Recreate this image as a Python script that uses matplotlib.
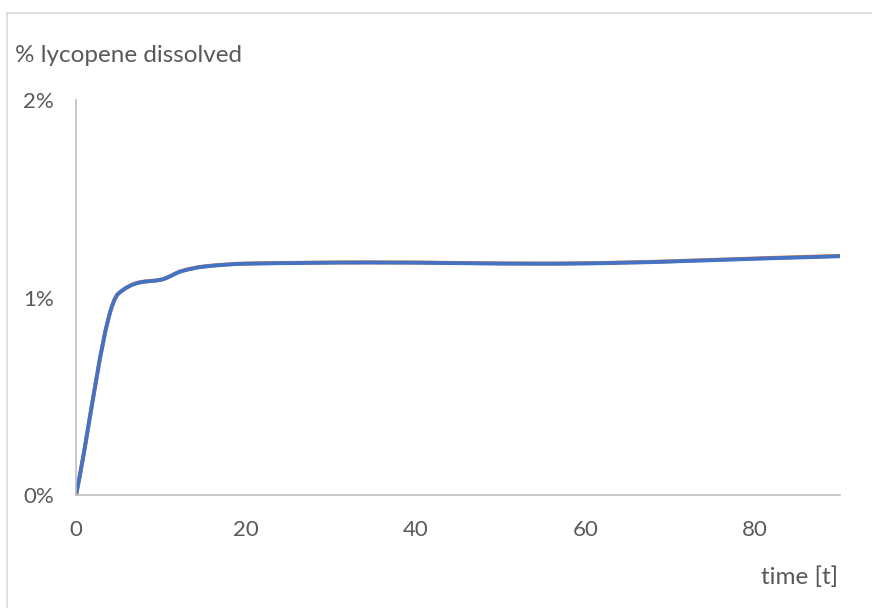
import matplotlib
matplotlib.use("Agg")
import matplotlib.pyplot as plt
import numpy as np
from matplotlib.path import Path
from matplotlib.patches import PathPatch
from matplotlib.lines import Line2D
from matplotlib.ticker import FuncFormatter

plt.rcParams['font.family'] = ['Lato', 'DejaVu Sans']

# data (percent as fraction)
t = [0, 5, 7.5, 10, 12.5, 15, 20, 35, 55, 90]
series_a = [0.0, 0.0102, 0.01077, 0.0109, 0.01135, 0.01157, 0.01172, 0.01178, 0.01172, 0.01211]
series_b = [0.0, 0.0102, 0.01076, 0.0109, 0.01134, 0.01156, 0.01171, 0.01177, 0.01171, 0.01209]

x_ticks = [0, 20, 40, 60, 80]
y_ticks = [0, 0.01, 0.02]

grey = '#595959'
axis_col = '#bfbfbf'


def smooth_path(x, y):
    # smoothed line drawn as cubic beziers through every point (monotone tangents)
    x = np.asarray(x, float)
    y = np.asarray(y, float)
    h = np.diff(x)
    d = np.diff(y) / h
    n = len(x)
    m = np.zeros(n)
    m[0], m[-1] = d[0], d[-1]
    for k in range(1, n - 1):
        if d[k - 1] * d[k] <= 0:
            m[k] = 0.0
        else:
            w1 = 2 * h[k] + h[k - 1]
            w2 = h[k] + 2 * h[k - 1]
            m[k] = (w1 + w2) / (w1 / d[k - 1] + w2 / d[k])
    verts = [(x[0], y[0])]
    codes = [Path.MOVETO]
    for k in range(n - 1):
        verts += [(x[k] + h[k] / 3, y[k] + m[k] * h[k] / 3),
                  (x[k + 1] - h[k] / 3, y[k + 1] - m[k + 1] * h[k] / 3),
                  (x[k + 1], y[k + 1])]
        codes += [Path.CURVE4] * 3
    return Path(verts, codes)


fig = plt.figure(figsize=(8.72, 6.08), dpi=100)
ax = fig.add_axes([76 / 872, 113 / 608, (840 - 76) / 872, (495 - 100) / 608])

for ys, col in [(series_a, '#ED7D31'), (series_b, '#4472C4')]:
    patch = PathPatch(smooth_path(t, ys), facecolor='none', edgecolor=col,
                      lw=2.8, capstyle='round', joinstyle='round')
    ax.add_patch(patch)

ax.set_xlim(0, 90)
ax.set_ylim(0, 0.02)
ax.set_xticks(x_ticks)
ax.set_yticks(y_ticks)
ax.yaxis.set_major_formatter(FuncFormatter(lambda v, p: '%d%%' % round(v * 100)))

for s in ['top', 'right']:
    ax.spines[s].set_visible(False)
for s in ['left', 'bottom']:
    ax.spines[s].set_color(axis_col)
    ax.spines[s].set_linewidth(1.2)

ax.tick_params(length=0, labelsize=16, colors=grey, pad=0)
ax.tick_params(axis='y', pad=16)
ax.tick_params(axis='x', pad=18)

fig.text(15 / 872, 1 - 55 / 608, '% lycopene dissolved', fontsize=17.5,
         color=grey, ha='left', va='center')
fig.text(838 / 872, 1 - 577 / 608, 'time [t]', fontsize=17.5,
         color=grey, ha='right', va='center')

# chart area border (cut off at right and bottom)
fig.add_artist(Line2D([7 / 872, 1], [1 - 13 / 608, 1 - 13 / 608],
                      transform=fig.transFigure, color='#d9d9d9', lw=1.2))
fig.add_artist(Line2D([7 / 872, 7 / 872], [0, 1 - 13 / 608],
                      transform=fig.transFigure, color='#d9d9d9', lw=1.2))

fig.savefig('out.png', dpi=100)
